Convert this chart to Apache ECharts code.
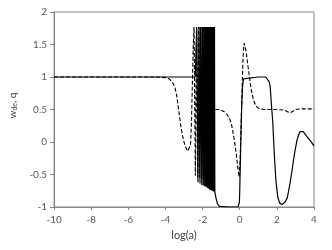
<!DOCTYPE html>
<html>
<head>
<meta charset="utf-8">
<script src="https://cdn.jsdelivr.net/npm/echarts@6/dist/echarts.min.js"></script>
<style>html,body{margin:0;padding:0;background:#fff;}#c{width:332px;height:250px;}</style>
</head>
<body>
<div id="c"></div>
<script>
// tick labels
var xTicks = [-10, -8, -6, -4, -2, 0, 2, 4];
var yTicks = [-1, -0.5, 0, 0.5, 1, 1.5, 2];

// w_de (solid)
var wLogA = [-10, -6, -2.4, -2.36,
  -2.31, -2.25, -2.19, -2.14, -2.09, -2.045, -2.0, -1.96, -1.92, -1.885, -1.85, -1.82, -1.79, -1.76, -1.735, -1.71,
  -1.685, -1.66, -1.64, -1.62, -1.6, -1.58, -1.56, -1.54, -1.52, -1.5, -1.48, -1.46, -1.44, -1.42, -1.4, -1.38, -1.36, -1.34,
  -1.28, -1.2, -1.1, -1.0, -0.5, -0.1, -0.05, -0.02, 0.0, 0.05, 0.1, 0.15, 0.2, 0.27, 1.0, 1.4, 1.5, 1.58, 1.64,
  1.7, 1.78, 1.86, 1.95, 2.05, 2.15, 2.3, 2.45, 2.56, 2.7, 2.81, 2.9, 2.98, 3.08, 3.16, 3.25, 3.33, 3.42, 3.6, 3.8, 4.0];
var wValues = [1, 1, 1, 1,
  1.76, -0.62, 1.77, -0.64, 1.77, -0.66, 1.77, -0.67, 1.77, -0.68, 1.77, -0.69, 1.77, -0.7, 1.77, -0.71,
  1.77, -0.72, 1.77, -0.73, 1.77, -0.74, 1.77, -0.74, 1.77, -0.75, 1.77, -0.75, 1.77, -0.76, 1.77, -0.76, 1.77, -0.77,
  -0.86, -0.95, -0.99, -1, -1, -1, -0.99, -0.93, -0.75, -0.1, 0.5, 0.85, 0.97, 1, 1, 1, 0.98, 0.93, 0.85,
  0.6, 0.3, -0.18, -0.6, -0.85, -0.94, -0.96, -0.92, -0.86, -0.65, -0.45, -0.27, -0.13, 0.02, 0.1, 0.16, 0.18, 0.16, 0.09, 0.02, -0.06];

// q (dashed)
var qLogA = [-10, -6, -4.5, -4.2, -4.0, -3.8, -3.65, -3.5, -3.4, -3.3, -3.2, -3.1, -3.0, -2.9, -2.8, -2.72, -2.65, -2.6, -2.55, -2.5,
  -2.46, -2.39, -2.33, -2.27, -2.21, -2.16, -2.11, -2.06, -2.02, -1.98, -1.94, -1.905, -1.87, -1.835, -1.8, -1.77, -1.74,
  -1.71, -1.68, -1.655, -1.63, -1.605, -1.58, -1.555, -1.53, -1.51,
  -1.48, -1.45, -1.4, -1.35, -1.15, -1.0, -0.81, -0.68, -0.55, -0.45, -0.38, -0.3, -0.21, -0.14, -0.08, -0.03, 0.01, 0.05, 0.1,
  0.14, 0.18, 0.23, 0.28, 0.35, 0.43, 0.5, 0.57, 0.65, 0.75, 0.85, 0.95, 1.1, 1.3, 2.0, 2.4, 2.6, 2.72, 2.85, 3.0, 3.3, 4.0];
var qValues = [1, 1, 1, 0.995, 0.99, 0.97, 0.93, 0.85, 0.72, 0.52, 0.3, 0.12, 0.0, -0.09, -0.14, -0.14, -0.05, 0.3, 0.9, 1.5,
  1.77, -0.52, 1.77, -0.54, 1.77, -0.55, 1.77, -0.56, 1.77, -0.57, 1.77, -0.58, 1.77, -0.6, 1.77, -0.61, 1.77,
  -0.62, 1.77, -0.63, 1.77, -0.64, 1.77, -0.65, 1.77, -0.7,
  1.5, 0.3, 0.55, 0.5, 0.5, 0.49, 0.46, 0.42, 0.36, 0.28, 0.18, 0.04, -0.13, -0.3, -0.44, -0.54, -0.35, 0.03, 0.55,
  0.95, 1.3, 1.52, 1.48, 1.38, 1.2, 1.05, 0.9, 0.76, 0.64, 0.57, 0.53, 0.51, 0.5, 0.5, 0.49, 0.46, 0.45, 0.47, 0.5, 0.51, 0.51];

function pairs(xs, ys) { return xs.map(function (x, i) { return [x, ys[i]]; }); }

var chart = echarts.init(document.getElementById('c'), null, { renderer: 'canvas' });
var axisColor = '#868686';
var labelStyle = { color: '#595959', fontSize: 10, fontFamily: 'Lato' };
chart.setOption({
  animation: false,
  backgroundColor: '#fff',
  grid: { left: 44, right: 18, top: 12, bottom: 43, show: true, borderColor: axisColor, borderWidth: 1 },
  xAxis: {
    type: 'value', min: xTicks[0], max: xTicks[xTicks.length - 1], interval: 2,
    name: 'log(a)', nameLocation: 'middle', nameGap: 22,
    nameTextStyle: { color: '#404040', fontSize: 11, fontFamily: 'Lato' },
    axisLine: { show: true, onZero: false, lineStyle: { color: axisColor } },
    axisTick: { show: true, length: 3, lineStyle: { color: axisColor } },
    axisLabel: labelStyle,
    splitLine: { show: false }
  },
  yAxis: {
    type: 'value', min: yTicks[0], max: yTicks[yTicks.length - 1], interval: 0.5,
    name: 'w{sub|de}, q', nameLocation: 'middle', nameGap: 27,
    nameTextStyle: { color: '#404040', fontSize: 10, fontFamily: 'Lato', padding: [0, 0, 0, 8],
      rich: { sub: { fontSize: 7, verticalAlign: 'bottom', color: '#404040', fontFamily: 'Lato', padding: [4, 0, 0, 0] } } },
    axisLine: { show: true, onZero: false, lineStyle: { color: axisColor } },
    axisTick: { show: true, length: 4, lineStyle: { color: axisColor } },
    axisLabel: Object.assign({ margin: 7 }, labelStyle),
    splitLine: { show: false }
  },
  series: [
    { type: 'line', name: 'w', data: pairs(wLogA, wValues), symbol: 'none', smooth: false,
      lineStyle: { color: '#000', width: 1.2, type: 'solid' }, z: 3 },
    { type: 'line', name: 'q', data: pairs(qLogA, qValues), symbol: 'none', smooth: false,
      lineStyle: { color: '#000', width: 1.1, type: [4, 2] }, z: 2 }
  ]
});
</script>
</body>
</html>
